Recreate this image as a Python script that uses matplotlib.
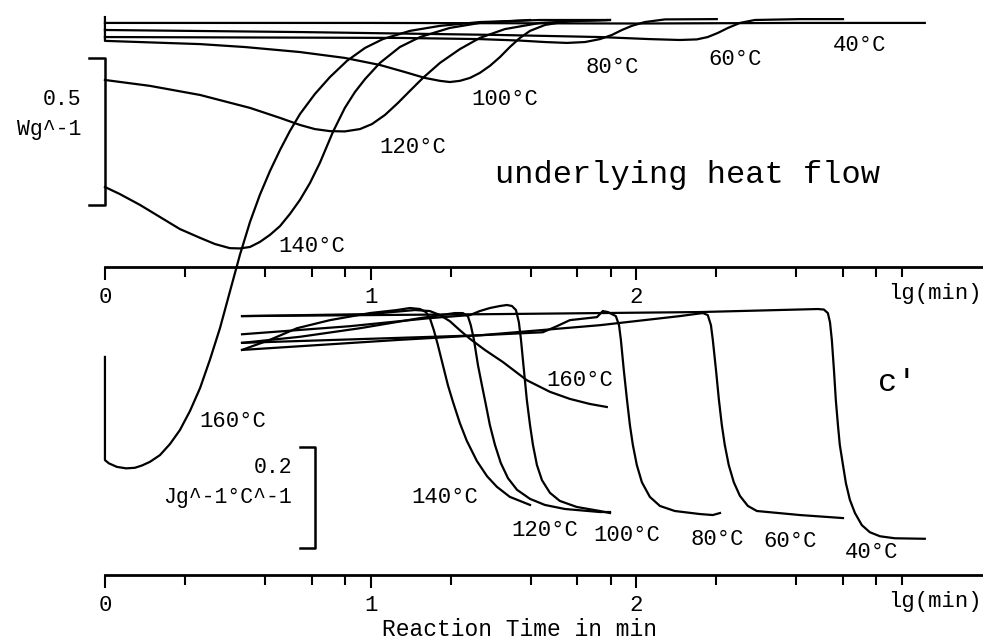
import numpy as np
import matplotlib.pyplot as plt

plt.rcParams['font.family'] = ['Liberation Mono', 'DejaVu Sans Mono']

# underlying heat flow (W/g) vs lg(t/min)
lg_hf40 = [0, 1.0, 2.0, 2.6, 3.086]
hf40 = [-0.010, -0.010, -0.012, -0.010, -0.010]

lg_hf60 = [0, 0.734, 1.487, 1.863, 2.051, 2.164, 2.228, 2.269, 2.307, 2.345, 2.390, 2.446, 2.616, 2.778]
hf60 = [-0.034, -0.041, -0.051, -0.058, -0.065, -0.068, -0.066, -0.058, -0.044, -0.027, -0.010, 0.0, 0.003, 0.003]

lg_hf80 = [0, 1.110, 1.411, 1.562, 1.656, 1.739, 1.807, 1.863, 1.908, 1.946, 1.983, 2.032, 2.108, 2.303]
hf80 = [-0.058, -0.061, -0.065, -0.070, -0.075, -0.078, -0.075, -0.065, -0.051, -0.034, -0.020, -0.007, 0.002, 0.003]

lg_hf100 = [0, 0, 0.358, 0.527, 0.734, 0.903, 1.035, 1.129, 1.204, 1.261, 1.298, 1.336, 1.374,
            1.411, 1.449, 1.487, 1.524, 1.562, 1.600, 1.656, 1.750, 1.901]
hf100 = [0.010, -0.071, -0.082, -0.092, -0.109, -0.129, -0.153, -0.177, -0.197, -0.207, -0.211, -0.207, -0.197,
         -0.180, -0.156, -0.126, -0.092, -0.061, -0.037, -0.017, -0.003, 0.0]

lg_hf120 = [0, 0.169, 0.358, 0.546, 0.659, 0.734, 0.790, 0.847, 0.903, 0.960, 1.005, 1.054, 1.103,
            1.148, 1.197, 1.261, 1.336, 1.411, 1.505, 1.637, 1.788, 1.901]
hf120 = [-0.204, -0.224, -0.255, -0.299, -0.333, -0.357, -0.371, -0.378, -0.379, -0.371, -0.354, -0.323, -0.282,
         -0.241, -0.197, -0.146, -0.099, -0.061, -0.031, -0.010, -0.003, 0.0]

lg_hf140 = [0, 0.056, 0.132, 0.207, 0.282, 0.358, 0.414, 0.470, 0.508, 0.546, 0.583, 0.621, 0.659,
            0.696, 0.734, 0.772, 0.809, 0.858, 0.903, 0.941, 0.979, 1.035, 1.110, 1.186, 1.298, 1.411, 1.600]
hf140 = [-0.568, -0.592, -0.629, -0.670, -0.711, -0.741, -0.762, -0.776, -0.777, -0.772, -0.755, -0.731, -0.701,
         -0.660, -0.612, -0.554, -0.486, -0.381, -0.299, -0.245, -0.201, -0.146, -0.092, -0.058, -0.027, -0.010, 0.0]

lg_hf160 = [0, 0, 0.015, 0.045, 0.080, 0.113, 0.140, 0.169, 0.207, 0.245, 0.282, 0.320, 0.358, 0.395,
            0.433, 0.470, 0.508, 0.546, 0.583, 0.621, 0.659, 0.696, 0.734, 0.790, 0.847, 0.911, 0.979,
            1.046, 1.148, 1.261, 1.411, 1.637, 1.889]
hf160 = [-1.146, -1.497, -1.508, -1.520, -1.525, -1.523, -1.515, -1.503, -1.480, -1.442, -1.395, -1.330, -1.252,
         -1.156, -1.048, -0.925, -0.799, -0.687, -0.595, -0.514, -0.442, -0.378, -0.320, -0.252, -0.194, -0.139,
         -0.095, -0.065, -0.037, -0.020, -0.007, 0.0, 0.0]

# c' (J g^-1 °C^-1) vs lg(t/min)
lg_c40 = [0.516, 1.487, 2.239, 2.683, 2.706, 2.721, 2.729, 2.736, 2.744, 2.751, 2.759, 2.766, 2.778,
          2.789, 2.804, 2.823, 2.849, 2.879, 2.917, 2.973, 3.086]
c40 = [1.588, 1.592, 1.596, 1.602, 1.601, 1.594, 1.576, 1.541, 1.481, 1.422, 1.372, 1.333, 1.293,
       1.257, 1.224, 1.198, 1.174, 1.160, 1.152, 1.148, 1.147]

lg_c60 = [0.516, 1.411, 1.863, 2.164, 2.221, 2.251, 2.269, 2.281, 2.288, 2.300, 2.311, 2.322, 2.333,
          2.348, 2.367, 2.390, 2.420, 2.454, 2.616, 2.778]
c60 = [1.535, 1.550, 1.570, 1.588, 1.592, 1.594, 1.590, 1.570, 1.541, 1.481, 1.422, 1.372, 1.333,
       1.293, 1.259, 1.232, 1.212, 1.202, 1.194, 1.188]

lg_c80 = [0.516, 1.110, 1.411, 1.648, 1.701, 1.750, 1.852, 1.874, 1.893, 1.908, 1.923, 1.935, 1.942,
          1.953, 1.965, 1.976, 1.987, 2.002, 2.021, 2.051, 2.089, 2.145, 2.239, 2.288, 2.315]
c80 = [1.521, 1.541, 1.550, 1.556, 1.568, 1.580, 1.586, 1.598, 1.596, 1.592, 1.588, 1.570, 1.541,
       1.481, 1.422, 1.372, 1.333, 1.293, 1.259, 1.230, 1.212, 1.202, 1.196, 1.194, 1.198]

lg_c100 = [0.516, 0.922, 1.223, 1.374, 1.411, 1.449, 1.487, 1.513, 1.532, 1.547, 1.558, 1.566, 1.577,
           1.588, 1.600, 1.611, 1.626, 1.645, 1.675, 1.712, 1.776, 1.863, 1.901]
c100 = [1.552, 1.568, 1.584, 1.590, 1.598, 1.604, 1.608, 1.610, 1.608, 1.600, 1.576, 1.541, 1.481,
        1.422, 1.372, 1.333, 1.293, 1.263, 1.238, 1.222, 1.210, 1.202, 1.198]

lg_c120 = [0.516, 0.734, 0.960, 1.186, 1.317, 1.347, 1.366, 1.377, 1.389, 1.404, 1.419, 1.434, 1.449,
           1.468, 1.490, 1.517, 1.551, 1.600, 1.656, 1.731, 1.863, 1.901]
c120 = [1.535, 1.547, 1.564, 1.584, 1.594, 1.594, 1.588, 1.570, 1.541, 1.491, 1.451, 1.412, 1.372,
        1.333, 1.297, 1.267, 1.244, 1.226, 1.214, 1.206, 1.200, 1.200]

lg_c140 = [0.516, 0.621, 0.723, 0.847, 0.997, 1.099, 1.148, 1.186, 1.208, 1.223, 1.238, 1.253, 1.272,
           1.291, 1.310, 1.336, 1.362, 1.400, 1.438, 1.475, 1.524, 1.600]
c140 = [1.521, 1.541, 1.564, 1.580, 1.594, 1.600, 1.604, 1.602, 1.596, 1.584, 1.560, 1.531, 1.491,
        1.451, 1.418, 1.376, 1.341, 1.301, 1.271, 1.250, 1.230, 1.214]

lg_c160 = [0.516, 0.997, 1.167, 1.223, 1.261, 1.298, 1.336, 1.374, 1.430, 1.498, 1.588, 1.675, 1.750,
           1.825, 1.889]
c160 = [1.588, 1.592, 1.600, 1.598, 1.590, 1.578, 1.560, 1.543, 1.521, 1.497, 1.461, 1.438, 1.424,
        1.414, 1.408]

# label anchors (lg, value)
hf_labels = {'40°C': (2.842, -0.088), '60°C': (2.371, -0.136), '80°C': (1.908, -0.160),
             '100°C': (1.505, -0.272), '120°C': (1.159, -0.432), '140°C': (0.779, -0.772),
             '160°C': (0.482, -1.367)}
c_labels = {'40°C': (2.887, 1.119), '60°C': (2.578, 1.141), '80°C': (2.303, 1.145),
            '100°C': (1.965, 1.154), '120°C': (1.656, 1.164), '140°C': (1.280, 1.228),
            '160°C': (1.788, 1.461)}

minor_min = [2, 4, 6, 8, 20, 40, 60, 80, 200, 400, 600, 800, 1000]

hf_bar = 0.5    # W/g
c_bar = 0.2     # J/g/°C

fig = plt.figure(figsize=(9.83, 6.43), dpi=100)
ax = fig.add_axes([0, 0, 1, 1])
ax2 = fig.add_axes([0, 0, 1, 1], sharex=ax)
ax2.patch.set_visible(False)

xmax = 3.305
ax.set_xlim(-0.395, xmax)
ax.set_ylim(-2.119, 0.068)
ax2.set_ylim(0.9406, 2.214)

lw = 1.6
for x, y in [(lg_hf40, hf40), (lg_hf60, hf60), (lg_hf80, hf80), (lg_hf100, hf100),
             (lg_hf120, hf120), (lg_hf140, hf140), (lg_hf160, hf160)]:
    ax.plot(x, y, color='black', lw=lw, solid_joinstyle='round')
for x, y in [(lg_c40, c40), (lg_c60, c60), (lg_c80, c80), (lg_c100, c100),
             (lg_c120, c120), (lg_c140, c140), (lg_c160, c160)]:
    ax2.plot(x, y, color='black', lw=lw, solid_joinstyle='round')

for t, (x, y) in hf_labels.items():
    ax.text(x, y, t, ha='center', va='center', fontsize=16)
for t, (x, y) in c_labels.items():
    ax2.text(x, y, t, ha='center', va='center', fontsize=16)

ax.text(2.194, -0.527, 'underlying heat flow', ha='center', va='center', fontsize=23)
ax2.text(2.981, 1.455, "c'", ha='center', va='center', fontsize=23)

# scale bars
top = -0.129
ax.plot([-0.06, 0, 0, -0.06], [top, top, top - hf_bar, top - hf_bar], color='black', lw=1.8)
ax.text(-0.087, -0.272, '0.5', ha='right', va='center', fontsize=15.5)
ax.text(-0.087, -0.374, 'Wg^-1', ha='right', va='center', fontsize=15.5)

ctop = 1.329
ax2.plot([0.734, 0.79, 0.79, 0.734], [ctop, ctop, ctop - c_bar, ctop - c_bar], color='black', lw=1.8)
ax2.text(0.704, 1.289, '0.2', ha='right', va='center', fontsize=15.5)
ax2.text(0.704, 1.228, 'Jg^-1°C^-1', ha='right', va='center', fontsize=15.5)

# two lg(min) axes
for a, frac in [(ax, 1 - 267 / 643), (ax2, 1 - 575 / 643)]:
    for s in ['top', 'left', 'right']:
        a.spines[s].set_visible(False)
    a.spines['bottom'].set_position(('axes', frac))
    a.spines['bottom'].set_bounds(0, xmax)
    a.spines['bottom'].set_linewidth(2)
    a.set_yticks([])
    a.tick_params(axis='x', which='major', length=9.5, width=1.5, labelsize=16, pad=5,
                  labelbottom=True)
    a.tick_params(axis='x', which='minor', length=7.5, width=1.5)

ax.set_xticks([0, 1, 2])
ax.set_xticklabels(['0', '1', '2'])
ax.set_xticks(np.log10(minor_min), minor=True)

fig.text(935 / 983, 1 - 293 / 643, 'lg(min)', ha='center', va='center', fontsize=16)
fig.text(935 / 983, 1 - 602 / 643, 'lg(min)', ha='center', va='center', fontsize=16)
fig.text(520 / 983, 1 - 630 / 643, 'Reaction Time in min', ha='center', va='center', fontsize=16.5)

fig.savefig('out.png', dpi=100, facecolor='white')
